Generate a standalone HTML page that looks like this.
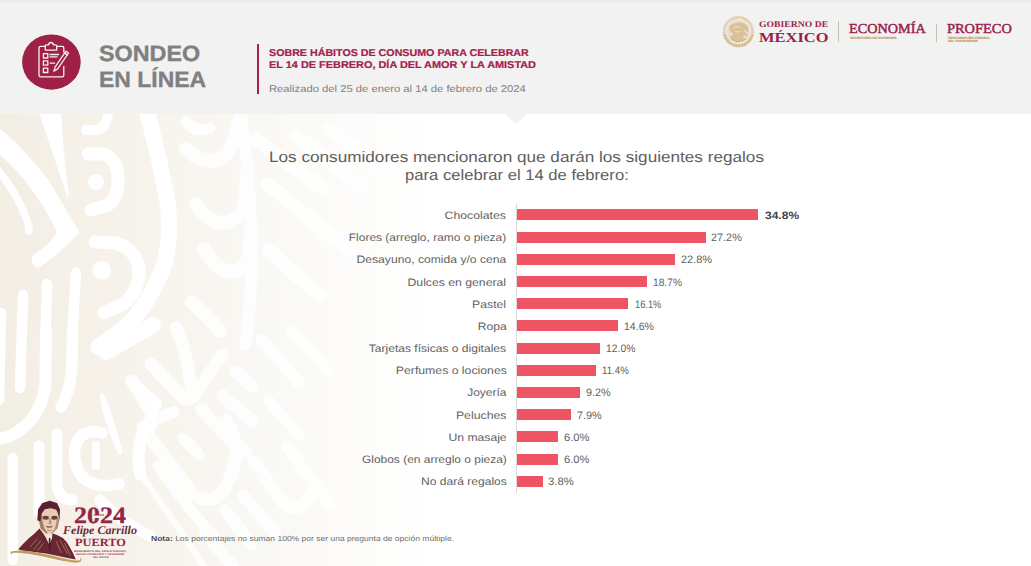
<!DOCTYPE html>
<html lang="es">
<head>
<meta charset="utf-8">
<title>Sondeo en línea</title>
<style>
*{margin:0;padding:0;box-sizing:border-box}
html,body{width:1031px;height:566px;overflow:hidden;background:#fff}
body{position:relative;font-family:"Liberation Sans",sans-serif;color:#595959}
.tx{position:absolute;white-space:nowrap;line-height:1;text-rendering:geometricPrecision}
#bg{position:absolute;left:0;top:0;width:1031px;height:566px}
#hdr{position:absolute;left:0;top:0;width:1031px;height:114px;background:#f2f2f2}
#hdrshade{position:absolute;left:0;top:0;width:1031px;height:4px;background:linear-gradient(#eaeaea,#f2f2f2)}
#notch{position:absolute;left:505.3px;top:114px;width:0;height:0;border-left:11.5px solid transparent;border-right:11.5px solid transparent;border-top:10px solid #f2f2f2}
#icon{position:absolute;left:21px;top:33px;width:61px;height:58px}
#vline{position:absolute;left:256.5px;top:44.4px;width:2.4px;height:49.2px;background:#a2204a}
.bar{position:absolute;left:517px;height:11.1px;background:#ef5464}
#axis{position:absolute;left:516px;top:204px;width:1px;height:289px;background:#d9d9d9}
.sep{position:absolute;width:1px;background:#cbbfa9}
#seal{position:absolute;left:721px;top:14px;width:35px;height:35px}
#portrait{position:absolute;left:5px;top:495px;width:140px;height:71px}
</style>
</head>
<body>
<svg id="bg" viewBox="0 0 1031 566">
<defs>
<linearGradient id="grad1" x1="0" x2="1" y1="0" y2="0">
<stop offset="0" stop-color="#f3eee4"/><stop offset="0.10" stop-color="#f6f2ea"/><stop offset="0.25" stop-color="#faf8f4"/><stop offset="0.42" stop-color="#ffffff"/><stop offset="1" stop-color="#ffffff"/>
</linearGradient>
</defs>
<rect x="0" y="0" width="1031" height="566" fill="url(#grad1)"/>
<!--PATTERN_START-->
<g fill="none" stroke="#ffffff" stroke-linecap="round" stroke-linejoin="round">
<path d="M-2 127Q26 150 49 181Q62 203 79.5 232Q64 250 41 266.5Q34 268.5 32 262Q31 256 36 253Q50 245 57 232Q46 208 24 179Q12 165 -2 153Z" fill="#fff" stroke="none"/>
<path d="M-2 170Q14 190 22 208T29 231" stroke-width="7.5"/>
<path d="M40 112H60Q62 150 68 196Q56 160 40 112Z" fill="#fff" stroke-width="2"/>
<path d="M88 154H104Q118 160 118 180Q118 200 106 206L91 210" stroke-width="13"/>
<circle cx="96" cy="182" r="8" fill="#fff" stroke="none"/>
<path d="M86 130H97Q106 128 108 114" stroke-width="10"/>
<path d="M95 242L116 243Q138 250 139 272Q138 296 120 306L104 312.5" stroke-width="13"/>
<circle cx="101.6" cy="270.3" r="9.3" fill="#fff" stroke="none"/>
<path d="M146 108Q160 160 168 205Q172 250 160 275Q150 300 132 321Q120 333 98 347" stroke-width="16"/>
<path d="M1 313L-1 400M23 295L20 388M47 284L45.5 340M76 273L72 340" stroke-width="10.5"/>
<path d="M186 122Q196 134 210 128" stroke-width="11" opacity="0.9"/>
<path d="M46 330L45.5 383Q42 420 10 436L-6 441" stroke-width="12"/>
<path d="M72.5 330L72 362Q71 390 61 407" stroke-width="11.5"/>
<path d="M153 325L106 352" stroke-width="16"/>
<path d="M133 384L156 404" stroke-width="12"/>
<path d="M102 396Q106 420 120 452Q112 420 102 396Z" fill="#fff" stroke-width="5"/>
<path d="M102 433Q86 428 78 440Q70 456 80 474Q92 490 119 484" stroke-width="11.5"/>
<path d="M96 445V466" stroke-width="8"/>
<path d="M12.7 458V560" stroke-width="10.5"/>
<path d="M39 446V512" stroke-width="11"/>
<path d="M57 434V486Q60 500 72 500" stroke-width="11"/>
<path d="M152 418Q134 440 140 474" stroke-width="12"/>
<path d="M100 500Q118 520 150 536" stroke-width="11"/>
</g>
<g fill="none" stroke="#ffffff" stroke-linecap="round" stroke-linejoin="round" opacity="0.85">
<path d="M186 149Q200 162 212 161Q228 158 234 140L240 118" stroke-width="14"/>
<path d="M196 204Q208 222 222 223Q240 222 245 204L248 166" stroke-width="14"/>
<path d="M204 249Q216 270 230 272Q246 272 249 256L251 230" stroke-width="14"/>
<path d="M192 302Q208 316 220 331" stroke-width="14"/>
<path d="M240 108Q250 170 252 250Q252 300 245 345" stroke-width="12"/>
<path d="M256 140L322 188M268 184L336 240M268 250L320 296M296 136L360 186M330 130L380 166M300 210L350 250" stroke-width="14"/>
<path d="M151 364L183 398Q190 402 197 392L222 355" stroke-width="13"/>
<path d="M176 328Q187 352 192 392" stroke-width="13"/>
<path d="M132 381L152 413Q151 430 146 434" stroke-width="13"/>
<path d="M150 421L174 412" stroke-width="12"/>
<path d="M202 410L227 436L246 452" stroke-width="13"/>
<path d="M185 440L197 452" stroke-width="12"/>
<path d="M236 372L252 386" stroke-width="13"/>
<path d="M223 396L252 421" stroke-width="13"/>
<path d="M143 428L164 456L194 495Q206 503 218 497Q233 480 236 456Q238 440 226 420" stroke-width="13"/>
<path d="M182 438L200 456" stroke-width="10"/>
<path d="M158 466L189 508L215 538" stroke-width="11"/>
<path d="M138 470L181 532L205 568" stroke-width="6.5"/>
<path d="M225.5 510L251 544" stroke-width="12"/>
<path d="M205 534L233 566" stroke-width="12"/>
<path d="M254 461L274.5 492Q286 508 298 508Q310 502 316 484" stroke-width="13"/>
<path d="M243.5 496L274.5 532" stroke-width="12"/>
<path d="M287 446L330 505" stroke-width="12"/>
<path d="M262 340L300 384" stroke-width="12"/>
<path d="M290 330L330 372" stroke-width="11"/>
<path d="M268 400L300 436" stroke-width="11"/>
</g>
<!--PATTERN_END-->
</svg>
<div id="hdr"></div><div id="hdrshade"></div><div id="notch"></div>
<svg id="icon" viewBox="21 33 61 58">
<ellipse cx="51.4" cy="62.1" rx="29.3" ry="27.6" fill="#9e2046"/>
<g fill="none" stroke="#f8f0f3" stroke-width="1.3" stroke-linejoin="round" stroke-linecap="round">
<path d="M45.3 46.4H40.6Q39 46.4 39 48V75.2Q39 76.8 40.6 76.8H62.2Q63.8 76.8 63.8 75.2V66.5"/>
<path d="M56.8 46.4H62.2Q63.8 46.4 63.8 48V52"/>
<path d="M45.3 50.2V46Q45.3 44.8 46.5 44.8H48.6Q48.9 42.5 51 42.5Q53.1 42.5 53.4 44.8H55.5Q56.7 44.8 56.7 46V50.2Z"/>
<rect x="43.4" y="53.6" width="4.4" height="4.4"/>
<rect x="43.4" y="60.8" width="4.4" height="4.4"/>
<rect x="43.4" y="68.1" width="4.4" height="4.4"/>
<path d="M50 54.5H58.6M50 56.9H57M50.2 63.2H54.6"/>
<path d="M53.9 71.2L55.2 66.9L66 51.2L68.6 53L57.6 68.9Z"/>
<path d="M64.7 53.1L67.3 54.9"/>
</g>
</svg>
<div id="vline"></div>
<svg id="seal" viewBox="721 14 35 35">
<circle cx="738.4" cy="31.6" r="14.1" fill="none" stroke="#dfcaa8" stroke-width="3.1" stroke-dasharray="1.7 0.55"/>
<path d="M724.6 34.5A14.1 14.1 0 0 0 752.2 34.5" fill="none" stroke="#d6bb90" stroke-width="3.1" stroke-dasharray="2.4 0.7"/>
<circle cx="738.4" cy="31.6" r="11.5" fill="#e9dcc4"/>
<path d="M729 27.5Q732 22.5 738 23Q743.5 22 747.5 26Q749.5 29 748 32Q745.5 29.5 742.5 29.5Q746 33 749 36.5Q746 36 743.5 34.5Q744.5 38 742 40.5Q738.5 42.5 734.5 41Q731 39.5 729.5 36.5Q732.5 36.5 733.5 34Q730.5 32.5 729 27.5Z" fill="#d9c19a"/>
<path d="M731 38.5Q738.4 44.5 746 38.5" fill="none" stroke="#d2b688" stroke-width="1.5"/>
<path d="M733.5 27.5Q737 25.5 740.5 27.5M735 31Q738 33 741 31.5" fill="none" stroke="#efe5d2" stroke-width="0.9"/>
</svg>
<div class="sep" style="left:838.3px;top:21.2px;height:20.6px"></div>
<div class="sep" style="left:936.3px;top:24.4px;height:17.6px"></div>
<div id="axis"></div>
<div class="bar" style="top:209.4px;width:241.4px"></div>
<div class="bar" style="top:231.6px;width:188.5px"></div>
<div class="bar" style="top:253.8px;width:158.0px"></div>
<div class="bar" style="top:276.0px;width:129.5px"></div>
<div class="bar" style="top:298.2px;width:111.4px"></div>
<div class="bar" style="top:320.4px;width:101.0px"></div>
<div class="bar" style="top:342.6px;width:82.9px"></div>
<div class="bar" style="top:364.8px;width:78.7px"></div>
<div class="bar" style="top:387.0px;width:63.4px"></div>
<div class="bar" style="top:409.2px;width:54.4px"></div>
<div class="bar" style="top:431.4px;width:41.2px"></div>
<div class="bar" style="top:453.6px;width:41.2px"></div>
<div class="bar" style="top:475.8px;width:25.9px"></div>
<svg id="portrait" viewBox="5 495 140 71">
<!--PORTRAIT_START-->
<path d="M18.2 549.2L23 544L28.5 538.6L34 534L39.4 528.5L43 533L46.5 538.5L49.3 544.8L51.8 538L52.3 533.3L57 535L62.9 538.1L67 542.5L70.1 547.7L73 553L75.8 559.4L70 558.6L46 553.4L22 550.6Z" fill="#682733"/>
<path d="M44.6 531.5L52.4 532.4L52 538.2L49.4 544.6L46.4 538.4Z" fill="#f1e6d6"/>
<path d="M48.9 538L50.4 538L50.8 547L49.6 551L48.6 547Z" fill="#4a1a25"/>
<path d="M38.8 520L40.6 528.5L46.1 533.4L52.1 533.4L57.5 528.5L59.3 520L58.1 514L56.3 509.8L50.9 508L44.9 509.2L41.5 514Z" fill="#e6cfb0"/>
<path d="M38.8 520L40.6 528.5L46.1 533.4L48 533.4L44.2 528L42.4 521L42.2 515L41.5 514Z" fill="#9b6a56" opacity="0.85"/>
<path d="M57 515.5L59.3 520L57.5 528.5L52.1 533.4L50.5 533.4L54.5 529.5L56.4 523Z" fill="#9b6a56" opacity="0.7"/>
<path d="M42.6 516.4Q45.6 514.8 48.8 516.6L48.6 519.2Q45.6 520.2 42.8 519Z" fill="#5a2230" opacity="0.85"/>
<path d="M51.4 516.6Q54.4 514.8 57.2 516.4L57 519Q54.2 520.2 51.6 519.2Z" fill="#5a2230" opacity="0.85"/>
<path d="M49.4 518.5L48.6 524L51.6 524.4L50.8 518.5Z" fill="#b08566" opacity="0.8"/>
<path d="M46.4 526.7Q49.2 527.6 52.2 526.6" stroke="#5a2230" stroke-width="1" fill="none"/>
<path d="M47 530.2Q49.4 531 51.6 530.1" stroke="#a87c62" stroke-width="0.8" fill="none"/>
<path d="M37.3 520.4L38.1 509.2L42.4 503.1L49.7 500.7L57 503.1L60 509.2L59.5 520.4L58.1 514L56.3 509.8L50.9 508.2L44.9 509.3L41.5 514L40.4 521Z" fill="#5a2230"/>
<path d="M30 547L37.5 538.5M33.5 550L41 540.5M37.5 551L43.5 543M56 541L61.5 553M60 540L67.5 554M64.5 543L70.5 556" stroke="#a67c55" stroke-width="1" fill="none" opacity="0.85"/>
<path d="M10.8 554.2Q9.4 551.6 12.4 551.3Q20 549.8 30 551.2Q48 554.2 64 558.6Q74 561.2 79 560.4Q81.2 559.6 80.2 557.2Q82.8 560 80 562Q74 563.8 62 561Q44 556.4 28 553.8Q16 552.2 12.4 552.9Q11.2 553.3 11.8 554.2Z" fill="#c39c60"/>
<path d="M14 553.6Q28 553.6 46 557.6Q62 561.4 76 562.6Q60 562.6 44 558.8Q28 555 14 553.6Z" fill="#fbf6ec" opacity="0.9"/>
<!--PORTRAIT_END-->
</svg>
<div class="tx" id="t1" style='left:98.6px;transform-origin:0 0;top:43.00px;font-family:"Liberation Sans",sans-serif;font-size:22.3px;font-weight:bold;color:#808080;transform:scaleX(1.0472);-webkit-text-stroke:0.35px #808080;'>SONDEO</div>
<div class="tx" id="t2" style='left:99.4px;transform-origin:0 0;top:69.00px;font-family:"Liberation Sans",sans-serif;font-size:22.3px;font-weight:bold;color:#808080;transform:scaleX(1.0302);-webkit-text-stroke:0.35px #808080;'>EN LÍNEA</div>
<div class="tx" id="s1" style='left:269.0px;transform-origin:0 0;top:49.00px;font-family:"Liberation Sans",sans-serif;font-size:9.9px;font-weight:bold;color:#a4214b;transform:scaleX(1.0819);-webkit-text-stroke:0.2px #a4214b;'>SOBRE HÁBITOS DE CONSUMO PARA CELEBRAR</div>
<div class="tx" id="s2" style='left:269.0px;transform-origin:0 0;top:61.00px;font-family:"Liberation Sans",sans-serif;font-size:9.9px;font-weight:bold;color:#a4214b;transform:scaleX(1.1043);-webkit-text-stroke:0.2px #a4214b;'>EL 14 DE FEBRERO, DÍA DEL AMOR Y LA AMISTAD</div>
<div class="tx" id="s3" style='left:269.0px;transform-origin:0 0;top:85.00px;font-family:"Liberation Sans",sans-serif;font-size:9.9px;color:#808080;transform:scaleX(1.1380);'>Realizado del 25 de enero al 14 de febrero de 2024</div>
<div class="tx" id="ti1" style='left:269.0px;transform-origin:0 0;top:150.00px;font-family:"Liberation Sans",sans-serif;font-size:15.1px;color:#5e5e5e;transform:scaleX(1.1367);'>Los consumidores mencionaron que darán los siguientes regalos</div>
<div class="tx" id="ti2" style='left:405.0px;transform-origin:0 0;top:168.00px;font-family:"Liberation Sans",sans-serif;font-size:15.1px;color:#5e5e5e;transform:scaleX(1.1021);'>para celebrar el 14 de febrero:</div>
<div class="tx" id="nota" style='left:150.6px;transform-origin:0 0;top:535.00px;font-family:"Liberation Sans",sans-serif;font-size:7.4px;color:#6e6e6e;transform:scaleX(1.1524);'><b style="color:#4d4d4d">Nota:</b> Los porcentajes no suman 100% por ser una pregunta de opción múltiple.</div>
<div class="tx" id="l0" style='right:524.6px;transform-origin:100% 0;top:211.00px;font-family:"Liberation Sans",sans-serif;font-size:10.8px;color:#626262;transform:scaleX(1.1382);'>Chocolates</div>
<div class="tx" id="v0" style='left:764.6px;transform-origin:0 0;top:211.00px;font-family:"Liberation Sans",sans-serif;font-size:10.7px;font-weight:bold;color:#424242;transform:scaleX(1.1249);'>34.8%</div>
<div class="tx" id="l1" style='right:524.6px;transform-origin:100% 0;top:233.00px;font-family:"Liberation Sans",sans-serif;font-size:10.8px;color:#626262;transform:scaleX(1.1067);'>Flores (arreglo, ramo o pieza)</div>
<div class="tx" id="v1" style='left:711.4px;transform-origin:0 0;top:233.00px;font-family:"Liberation Sans",sans-serif;font-size:10.8px;color:#626262;transform:scaleX(1.0057);'>27.2%</div>
<div class="tx" id="l2" style='right:524.6px;transform-origin:100% 0;top:255.00px;font-family:"Liberation Sans",sans-serif;font-size:10.8px;color:#626262;transform:scaleX(1.1235);'>Desayuno, comida y/o cena</div>
<div class="tx" id="v2" style='left:681.0px;transform-origin:0 0;top:255.00px;font-family:"Liberation Sans",sans-serif;font-size:10.8px;color:#626262;transform:scaleX(1.0155);'>22.8%</div>
<div class="tx" id="l3" style='right:524.6px;transform-origin:100% 0;top:278.00px;font-family:"Liberation Sans",sans-serif;font-size:10.8px;color:#626262;transform:scaleX(1.1318);'>Dulces en general</div>
<div class="tx" id="v3" style='left:652.7px;transform-origin:0 0;top:278.00px;font-family:"Liberation Sans",sans-serif;font-size:10.8px;color:#626262;transform:scaleX(0.9469);'>18.7%</div>
<div class="tx" id="l4" style='right:524.6px;transform-origin:100% 0;top:300.00px;font-family:"Liberation Sans",sans-serif;font-size:10.8px;color:#626262;transform:scaleX(1.1294);'>Pastel</div>
<div class="tx" id="v4" style='left:634.6px;transform-origin:0 0;top:300.00px;font-family:"Liberation Sans",sans-serif;font-size:10.8px;color:#626262;transform:scaleX(0.8588);'>16.1%</div>
<div class="tx" id="l5" style='right:524.6px;transform-origin:100% 0;top:322.00px;font-family:"Liberation Sans",sans-serif;font-size:10.8px;color:#626262;transform:scaleX(1.1235);'>Ropa</div>
<div class="tx" id="v5" style='left:623.5px;transform-origin:0 0;top:322.00px;font-family:"Liberation Sans",sans-serif;font-size:10.8px;color:#626262;transform:scaleX(0.9763);'>14.6%</div>
<div class="tx" id="l6" style='right:524.6px;transform-origin:100% 0;top:344.00px;font-family:"Liberation Sans",sans-serif;font-size:10.8px;color:#626262;transform:scaleX(1.1152);'>Tarjetas físicas o digitales</div>
<div class="tx" id="v6" style='left:605.8px;transform-origin:0 0;top:344.00px;font-family:"Liberation Sans",sans-serif;font-size:10.8px;color:#626262;transform:scaleX(0.9600);'>12.0%</div>
<div class="tx" id="l7" style='right:524.6px;transform-origin:100% 0;top:366.00px;font-family:"Liberation Sans",sans-serif;font-size:10.8px;color:#626262;transform:scaleX(1.1346);'>Perfumes o lociones</div>
<div class="tx" id="v7" style='left:601.8px;transform-origin:0 0;top:366.00px;font-family:"Liberation Sans",sans-serif;font-size:10.8px;color:#626262;transform:scaleX(0.8990);'>11.4%</div>
<div class="tx" id="l8" style='right:524.6px;transform-origin:100% 0;top:388.00px;font-family:"Liberation Sans",sans-serif;font-size:10.8px;color:#626262;transform:scaleX(1.1071);'>Joyería</div>
<div class="tx" id="v8" style='left:585.9px;transform-origin:0 0;top:388.00px;font-family:"Liberation Sans",sans-serif;font-size:10.8px;color:#626262;transform:scaleX(1.0037);'>9.2%</div>
<div class="tx" id="l9" style='right:524.6px;transform-origin:100% 0;top:411.00px;font-family:"Liberation Sans",sans-serif;font-size:10.8px;color:#626262;transform:scaleX(1.1368);'>Peluches</div>
<div class="tx" id="v9" style='left:577.4px;transform-origin:0 0;top:411.00px;font-family:"Liberation Sans",sans-serif;font-size:10.8px;color:#626262;transform:scaleX(1.0077);'>7.9%</div>
<div class="tx" id="l10" style='right:524.6px;transform-origin:100% 0;top:433.00px;font-family:"Liberation Sans",sans-serif;font-size:10.8px;color:#626262;transform:scaleX(1.1258);'>Un masaje</div>
<div class="tx" id="v10" style='left:563.8px;transform-origin:0 0;top:433.00px;font-family:"Liberation Sans",sans-serif;font-size:10.8px;color:#626262;transform:scaleX(1.0403);'>6.0%</div>
<div class="tx" id="l11" style='right:524.6px;transform-origin:100% 0;top:455.00px;font-family:"Liberation Sans",sans-serif;font-size:10.8px;color:#626262;transform:scaleX(1.1074);'>Globos (en arreglo o pieza)</div>
<div class="tx" id="v11" style='left:563.8px;transform-origin:0 0;top:455.00px;font-family:"Liberation Sans",sans-serif;font-size:10.8px;color:#626262;transform:scaleX(1.0403);'>6.0%</div>
<div class="tx" id="l12" style='right:524.6px;transform-origin:100% 0;top:477.00px;font-family:"Liberation Sans",sans-serif;font-size:10.8px;color:#626262;transform:scaleX(1.1168);'>No dará regalos</div>
<div class="tx" id="v12" style='left:548.2px;transform-origin:0 0;top:477.00px;font-family:"Liberation Sans",sans-serif;font-size:10.8px;color:#626262;transform:scaleX(1.0443);'>3.8%</div>
<div class="tx" id="g1" style='left:759.2px;transform-origin:0 0;top:20.00px;font-family:"Liberation Serif",serif;font-size:8.9px;font-weight:bold;color:#9b2247;transform:scaleX(1.0919);'>GOBIERNO DE</div>
<div class="tx" id="g2" style='left:759.2px;transform-origin:0 0;top:31.00px;font-family:"Liberation Serif",serif;font-size:13.6px;font-weight:bold;color:#9b2247;transform:scaleX(1.2124);'>MÉXICO</div>
<div class="tx" id="e1" style='left:849.4px;transform-origin:0 0;top:22.00px;font-family:"Liberation Serif",serif;font-size:13.6px;color:#9b2247;transform:scaleX(1.0482);-webkit-text-stroke:0.45px #9b2247;'>ECONOMÍA</div>
<div class="tx" id="e2" style='left:849.6px;transform-origin:0 0;top:37.00px;font-family:"Liberation Sans",sans-serif;font-size:3.1px;font-weight:bold;color:#b8975a;transform:scaleX(1.0931);-webkit-text-stroke:0.12px #b8975a;'>SECRETARÍA DE ECONOMÍA</div>
<div class="tx" id="p1" style='left:947.2px;transform-origin:0 0;top:22.00px;font-family:"Liberation Serif",serif;font-size:13.6px;color:#9b2247;transform:scaleX(1.0588);-webkit-text-stroke:0.45px #9b2247;'>PROFECO</div>
<div class="tx" id="p2" style='left:947.6px;transform-origin:0 0;top:37.00px;font-family:"Liberation Sans",sans-serif;font-size:3.1px;font-weight:bold;color:#b8975a;transform:scaleX(1.0295);-webkit-text-stroke:0.12px #b8975a;'>PROCURADURÍA FEDERAL</div>
<div class="tx" id="p3" style='left:947.6px;transform-origin:0 0;top:40.00px;font-family:"Liberation Sans",sans-serif;font-size:3.1px;font-weight:bold;color:#b8975a;transform:scaleX(1.0392);-webkit-text-stroke:0.12px #b8975a;'>DEL CONSUMIDOR</div>
<div class="tx" id="y24" style='left:74.3px;transform-origin:0 0;top:505.00px;font-family:"Liberation Serif",serif;font-size:23.5px;font-weight:bold;color:#962444;transform:scaleX(1.1064);-webkit-text-stroke:0.3px #962444;'>2024</div>
<div class="tx" id="ano" style='left:93.0px;transform-origin:0 0;top:514.66px;font-family:"Liberation Sans",sans-serif;font-size:2.4px;font-weight:bold;color:#962444;transform:scaleX(1.1248);background:#f9f6f0;padding:0.35px 0.5px 0.1px;'>AÑO DE</div>
<div class="tx" id="fc" style='left:63.4px;transform-origin:0 0;top:525.00px;font-family:"Liberation Serif",serif;font-size:11.9px;font-weight:bold;font-style:italic;color:#6b2a34;transform:scaleX(1.0137);'>Felipe Carrillo</div>
<div class="tx" id="pu" style='left:74.7px;transform-origin:0 0;top:538.00px;font-family:"Liberation Serif",serif;font-size:11px;font-weight:bold;color:#962444;transform:scaleX(1.1245);'>PUERTO</div>
<div class="tx" id="b1" style='left:74.0px;transform-origin:0 0;top:551.00px;font-family:"Liberation Sans",sans-serif;font-size:2.6px;font-weight:bold;color:#a03a58;transform:scaleX(1.1638);'>BENEMÉRITO DEL PROLETARIADO,</div>
<div class="tx" id="b2" style='left:75.9px;transform-origin:0 0;top:554.00px;font-family:"Liberation Sans",sans-serif;font-size:2.6px;font-weight:bold;color:#a03a58;transform:scaleX(1.1705);'>REVOLUCIONARIO Y DEFENSOR</div>
<div class="tx" id="b3" style='left:93.3px;transform-origin:0 0;top:557.00px;font-family:"Liberation Sans",sans-serif;font-size:2.6px;font-weight:bold;color:#a03a58;transform:scaleX(1.0465);'>DEL MAYAB</div>
</body>
</html>
